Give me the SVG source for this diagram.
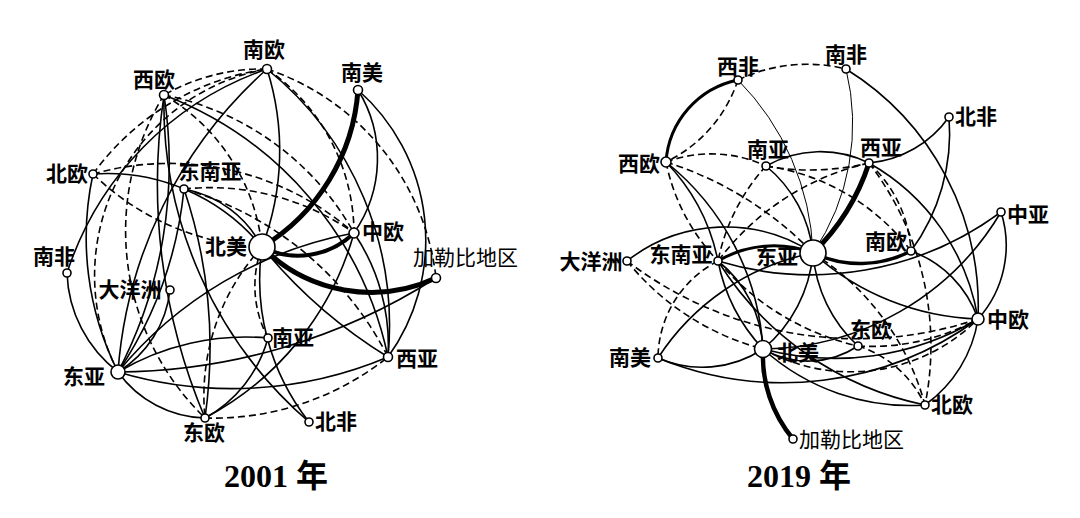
<svg xmlns="http://www.w3.org/2000/svg" width="1080" height="518" viewBox="0 0 1080 518">
<style>
.e{fill:none;stroke:#000;stroke-width:1.6}
.d{stroke-dasharray:7 4}
.th{stroke-width:1}
.n{fill:#fff;stroke:#000;stroke-width:1.6}
.lb{font-family:"Noto Sans CJK SC","Liberation Serif",sans-serif;font-size:21px;font-weight:700;fill:#000}
.lr{font-weight:400;font-size:21px}
.tt{font-family:"Liberation Serif","Noto Sans CJK SC",serif;font-size:32px;font-weight:700;fill:#000;text-anchor:middle}
</style>
<rect width="1080" height="518" fill="#fff"/>
<g id="connectors-2001">
<path class="e" d="M267 69 A450 450 0 0 0 118 372"/>
<path class="e" d="M267 69 A320 320 0 0 0 67 273"/>
<path class="e" d="M267 69 A270 270 0 0 1 262 247"/>
<path class="e" d="M267 69 A330 330 0 0 1 388 357"/>
<path class="e" d="M164 95 A450 450 0 0 1 118 372"/>
<path class="e" d="M164 95 A600 600 0 0 0 205 418"/>
<path class="e" d="M164 95 A360 360 0 0 1 388 357"/>
<path class="e" d="M93 174 A300 300 0 0 0 118 372"/>
<path class="e" d="M93 174 A200 200 0 0 1 262 247"/>
<path class="e" d="M184 189 A110 110 0 0 1 262 247"/>
<path class="e" d="M184 189 A400 400 0 0 1 118 372"/>
<path class="e" d="M184 189 A500 500 0 0 1 205 418"/>
<path class="e" d="M67 273 A130 130 0 0 0 118 372"/>
<path class="e" d="M170 290 A110 110 0 0 1 118 372"/>
<path class="e" d="M118 372 A250 250 0 0 1 268 338"/>
<path class="e" d="M118 372 A400 400 0 0 0 388 357"/>
<path class="e" d="M118 372 A600 600 0 0 0 436 278"/>
<path class="e" d="M118 372 A400 400 0 0 1 354 233"/>
<path class="e" d="M118 372 A110 110 0 0 0 205 418"/>
<path class="e" d="M205 418 A130 130 0 0 0 268 338"/>
<path class="e" d="M205 418 A300 300 0 0 0 354 233"/>
<path class="e" d="M262 247 A230 230 0 0 0 309 422"/>
<path class="e" d="M262 247 A500 500 0 0 0 388 357"/>
<path class="e" d="M354 233 A200 200 0 0 1 388 357"/>
<path class="e" d="M358 90 A130 130 0 0 1 354 233"/>
<path class="e" d="M358 90 A200 200 0 0 1 388 357"/>
<path class="e" d="M164 95 A420 420 0 0 0 309 422"/>
<path class="e d" d="M267 69 A200 200 0 0 0 164 95"/>
<path class="e d" d="M267 69 A210 210 0 0 0 118 372"/>
<path class="e d" d="M93 174 A260 260 0 0 1 267 69"/>
<path class="e d" d="M93 174 A280 280 0 0 1 354 233"/>
<path class="e d" d="M93 174 A260 260 0 0 0 262 247"/>
<path class="e d" d="M164 95 A280 280 0 0 1 354 233"/>
<path class="e d" d="M267 69 A250 250 0 0 1 436 278"/>
<path class="e d" d="M184 189 A250 250 0 0 1 354 233"/>
<path class="e d" d="M164 95 A200 200 0 0 1 262 247"/>
<path class="e d" d="M262 247 A220 220 0 0 0 205 418"/>
<path class="e d" d="M262 247 A110 110 0 0 0 268 338"/>
<path class="e d" d="M267 69 A200 200 0 0 1 354 233"/>
<path class="e d" d="M184 189 A330 330 0 0 1 388 357"/>
<path class="e d" d="M205 418 A280 280 0 0 0 388 357"/>
<path class="e d" d="M164 95 A260 260 0 0 0 205 418"/>
<path class="e" style="stroke-width:5" d="M262 247 A200 200 0 0 0 358 90"/>
<path class="e" style="stroke-width:4" d="M262 247 A80 80 0 0 0 354 233"/>
<path class="e" style="stroke-width:5" d="M262 247 A154 154 0 0 0 436 278"/>
</g>
<g id="connectors-2019">
<path class="e th" d="M738 80 A260 260 0 0 1 813 253"/>
<path class="e th" d="M846 69 A230 230 0 0 1 813 253"/>
<path class="e" d="M846 69 A280 280 0 0 1 978 319"/>
<path class="e" d="M949 117 A110 110 0 0 1 869 163"/>
<path class="e" d="M949 117 A200 200 0 0 1 911 251"/>
<path class="e" d="M869 163 A220 220 0 0 1 978 319"/>
<path class="e" d="M1001 212 A110 110 0 0 1 978 319"/>
<path class="e" d="M1001 212 A280 280 0 0 1 763 349"/>
<path class="e" d="M666 162 A260 260 0 0 1 763 349"/>
<path class="e" d="M666 162 A200 200 0 0 1 718 261"/>
<path class="e" d="M766 166 A130 130 0 0 1 813 253"/>
<path class="e" d="M766 166 A110 110 0 0 1 869 163"/>
<path class="e" d="M813 253 A140 140 0 0 1 763 349"/>
<path class="e" d="M813 253 A140 140 0 0 0 858 346"/>
<path class="e" d="M813 253 A260 260 0 0 0 978 319"/>
<path class="e" d="M813 253 A240 240 0 0 0 658 358"/>
<path class="e" d="M627 261 A160 160 0 0 1 813 253"/>
<path class="e" d="M718 261 A120 120 0 0 1 763 349"/>
<path class="e" d="M718 261 A180 180 0 0 0 763 349"/>
<path class="e" d="M763 349 A220 220 0 0 0 925 405"/>
<path class="e" d="M718 261 A320 320 0 0 0 925 405"/>
<path class="e" d="M763 349 A280 280 0 0 0 978 319"/>
<path class="e" d="M763 349 A90 90 0 0 0 858 346"/>
<path class="e" d="M911 251 A110 110 0 0 1 978 319"/>
<path class="e" d="M1001 212 A320 320 0 0 1 718 261"/>
<path class="e" d="M978 319 A130 130 0 0 1 925 405"/>
<path class="e" d="M658 358 A330 330 0 0 0 978 319"/>
<path class="e" d="M658 358 A110 110 0 0 0 763 349"/>
<path class="e d" d="M666 162 A130 130 0 0 1 766 166"/>
<path class="e d" d="M666 162 A350 350 0 0 1 813 253"/>
<path class="e d" d="M666 162 A200 200 0 0 0 718 261"/>
<path class="e d" d="M738 80 A160 160 0 0 1 846 69"/>
<path class="e d" d="M738 80 A140 140 0 0 1 666 162"/>
<path class="e d" d="M766 166 A250 250 0 0 0 869 163"/>
<path class="e d" d="M766 166 A200 200 0 0 0 718 261"/>
<path class="e d" d="M766 166 A220 220 0 0 1 911 251"/>
<path class="e d" d="M869 163 A130 130 0 0 1 911 251"/>
<path class="e d" d="M869 163 A300 300 0 0 1 925 405"/>
<path class="e d" d="M813 253 A260 260 0 0 1 925 405"/>
<path class="e d" d="M869 163 A260 260 0 0 0 718 261"/>
<path class="e d" d="M718 261 A110 110 0 0 0 658 358"/>
<path class="e d" d="M718 261 A260 260 0 0 0 858 346"/>
<path class="e d" d="M627 261 A260 260 0 0 0 763 349"/>
<path class="e d" d="M627 261 A380 380 0 0 0 978 319"/>
<path class="e d" d="M858 346 A220 220 0 0 0 978 319"/>
<path class="e d" d="M858 346 A110 110 0 0 1 925 405"/>
<path class="e d" d="M763 349 A180 180 0 0 0 978 319"/>
<path class="e" style="stroke-width:5" d="M813 253 A220 220 0 0 0 869 163"/>
<path class="e" style="stroke-width:3.5" d="M813 253 A110 110 0 0 0 911 251"/>
<path class="e" style="stroke-width:3" d="M718 261 A110 110 0 0 1 813 253"/>
<path class="e" style="stroke-width:3" d="M666 162 A90 90 0 0 1 738 80"/>
<path class="e" style="stroke-width:4.5" d="M763 349 A130 130 0 0 0 793 439"/>
</g>
<g id="n2001-nanou"><circle class="n" cx="267" cy="69" r="4.5"/><text class="lb" x="264" y="57" text-anchor="middle">南欧</text></g>
<g id="n2001-nanmei"><circle class="n" cx="358" cy="90" r="4.5"/><text class="lb" x="362" y="80" text-anchor="middle">南美</text></g>
<g id="n2001-xiou"><circle class="n" cx="164" cy="95" r="4.5"/><text class="lb" x="154" y="87" text-anchor="middle">西欧</text></g>
<g id="n2001-beiou"><circle class="n" cx="93" cy="174" r="4"/><text class="lb" x="88" y="181" text-anchor="end">北欧</text></g>
<g id="n2001-dongnanya"><circle class="n" cx="184" cy="189" r="4"/><text class="lb" x="210" y="179" text-anchor="middle">东南亚</text></g>
<g id="n2001-beimei"><circle class="n" cx="262" cy="247" r="13"/><text class="lb" x="247" y="254" text-anchor="end">北美</text></g>
<g id="n2001-zhongou"><circle class="n" cx="354" cy="233" r="5"/><text class="lb" x="362" y="239">中欧</text></g>
<g id="n2001-jialebi"><circle class="n" cx="436" cy="278" r="4.5"/><text class="lb lr" x="413" y="265">加勒比地区</text></g>
<g id="n2001-nanfei"><circle class="n" cx="67" cy="273" r="4"/><text class="lb" x="54" y="264" text-anchor="middle">南非</text></g>
<g id="n2001-dayangzhou"><circle class="n" cx="170" cy="290" r="4"/><text class="lb" x="130" y="297" text-anchor="middle">大洋洲</text></g>
<g id="n2001-nanya"><circle class="n" cx="268" cy="338" r="4"/><text class="lb" x="293" y="345" text-anchor="middle">南亚</text></g>
<g id="n2001-xiya"><circle class="n" cx="388" cy="357" r="4.5"/><text class="lb" x="417" y="366" text-anchor="middle">西亚</text></g>
<g id="n2001-dongya"><circle class="n" cx="118" cy="372" r="7"/><text class="lb" x="84" y="384" text-anchor="middle">东亚</text></g>
<g id="n2001-dongou"><circle class="n" cx="205" cy="418" r="4"/><text class="lb" x="204" y="440" text-anchor="middle">东欧</text></g>
<g id="n2001-beifei"><circle class="n" cx="309" cy="422" r="4"/><text class="lb" x="336" y="429" text-anchor="middle">北非</text></g>
<text class="tt" x="276" y="487">2001 年</text>
<g id="n2019-xifei"><circle class="n" cx="738" cy="80" r="4"/><text class="lb" x="738" y="74" text-anchor="middle">西非</text></g>
<g id="n2019-nanfei"><circle class="n" cx="846" cy="69" r="4"/><text class="lb" x="846" y="62" text-anchor="middle">南非</text></g>
<g id="n2019-beifei"><circle class="n" cx="949" cy="117" r="4"/><text class="lb" x="976" y="124" text-anchor="middle">北非</text></g>
<g id="n2019-xiou"><circle class="n" cx="666" cy="162" r="5"/><text class="lb" x="639" y="171" text-anchor="middle">西欧</text></g>
<g id="n2019-nanya"><circle class="n" cx="766" cy="166" r="4"/><text class="lb" x="768" y="157" text-anchor="middle">南亚</text></g>
<g id="n2019-xiya"><circle class="n" cx="869" cy="163" r="4"/><text class="lb" x="881" y="155" text-anchor="middle">西亚</text></g>
<g id="n2019-zhongya"><circle class="n" cx="1001" cy="212" r="4"/><text class="lb" x="1028" y="222" text-anchor="middle">中亚</text></g>
<g id="n2019-dongya"><circle class="n" cx="813" cy="253" r="13"/><text class="lb" x="777" y="264" text-anchor="middle">东亚</text></g>
<g id="n2019-dongnanya"><circle class="n" cx="718" cy="261" r="4"/><text class="lb" x="681" y="262" text-anchor="middle">东南亚</text></g>
<g id="n2019-dayangzhou"><circle class="n" cx="627" cy="261" r="4"/><text class="lb" x="591" y="269" text-anchor="middle">大洋洲</text></g>
<g id="n2019-nanou"><circle class="n" cx="911" cy="251" r="4"/><text class="lb" x="886" y="249" text-anchor="middle">南欧</text></g>
<g id="n2019-zhongou"><circle class="n" cx="978" cy="319" r="6"/><text class="lb" x="1008" y="327" text-anchor="middle">中欧</text></g>
<g id="n2019-dongou"><circle class="n" cx="858" cy="346" r="4"/><text class="lb" x="871" y="337" text-anchor="middle">东欧</text></g>
<g id="n2019-nanmei"><circle class="n" cx="658" cy="358" r="4"/><text class="lb" x="630" y="365" text-anchor="middle">南美</text></g>
<g id="n2019-beimei"><circle class="n" cx="763" cy="349" r="8.5"/><text class="lb" x="798" y="360" text-anchor="middle">北美</text></g>
<g id="n2019-beiou"><circle class="n" cx="925" cy="405" r="4"/><text class="lb" x="952" y="412" text-anchor="middle">北欧</text></g>
<g id="n2019-jialebi"><circle class="n" cx="793" cy="439" r="4"/><text class="lb lr" x="799" y="447">加勒比地区</text></g>
<text class="tt" x="799" y="487">2019 年</text>
</svg>
